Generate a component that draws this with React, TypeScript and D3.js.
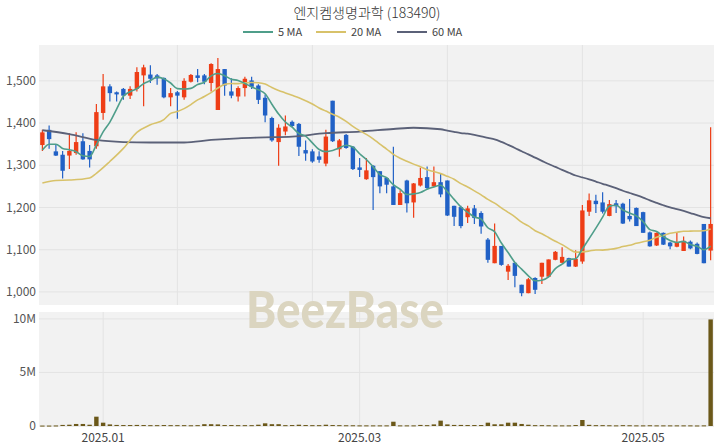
import React, { useEffect } from 'react';
import * as d3 from 'd3';

// OHLC, Dec 17 2024 .. May 20 2025 (100 trading days)
const opens = [
  1348, 1384, 1333, 1325, 1323, 1329, 1357, 1334, 1345, 1424,
  1487, 1473, 1481, 1465, 1481, 1513, 1515, 1513, 1507, 1461,
  1473, 1461, 1498, 1513, 1513, 1495, 1431, 1528, 1475, 1463,
  1483, 1501, 1489, 1460, 1412, 1355, 1380, 1403, 1398, 1336,
  1333, 1321, 1304, 1453, 1338, 1372, 1344, 1295, 1267, 1299,
  1286, 1270, 1250, 1206, 1264, 1212, 1252, 1272, 1250, 1260,
  1264, 1204, 1201, 1177, 1198, 1187, 1124, 1068, 1109, 1048,
  1069, 1017, 997, 1033, 1036, 1036, 1076, 1069, 1080, 1060,
  1072, 1190, 1216, 1212, 1180, 1210, 1209, 1180, 1199, 1189,
  1141, 1110, 1140, 1117, 1107, 1097, 1119, 1114, 1161, 1098,
];
const highs = [
  1384, 1394, 1348, 1334, 1376, 1378, 1376, 1348, 1445, 1516,
  1492, 1475, 1483, 1487, 1532, 1538, 1537, 1516, 1508, 1483,
  1476, 1506, 1516, 1528, 1516, 1542, 1554, 1528, 1506, 1487,
  1510, 1510, 1492, 1468, 1415, 1397, 1418, 1406, 1400, 1359,
  1338, 1333, 1384, 1453, 1362, 1374, 1346, 1317, 1317, 1300,
  1286, 1272, 1344, 1241, 1266, 1258, 1294, 1297, 1297, 1281,
  1264, 1204, 1204, 1204, 1206, 1191, 1128, 1162, 1109, 1066,
  1069, 1017, 1033, 1035, 1069, 1077, 1097, 1106, 1081, 1099,
  1206, 1233, 1230, 1236, 1218, 1218, 1211, 1220, 1200, 1190,
  1143, 1141, 1141, 1119, 1140, 1131, 1122, 1117, 1161, 1390,
];
const lows = [
  1334, 1339, 1322, 1269, 1291, 1325, 1313, 1295, 1339, 1408,
  1451, 1451, 1455, 1457, 1475, 1440, 1495, 1491, 1459, 1440,
  1410, 1455, 1496, 1497, 1492, 1475, 1431, 1465, 1459, 1451,
  1463, 1481, 1445, 1402, 1356, 1299, 1371, 1391, 1322, 1311,
  1306, 1306, 1298, 1355, 1320, 1339, 1289, 1272, 1266, 1194,
  1234, 1234, 1206, 1206, 1188, 1176, 1250, 1244, 1249, 1224,
  1180, 1156, 1151, 1163, 1161, 1138, 1069, 1068, 1062, 1028,
  1011, 990, 997, 995, 1019, 1035, 1075, 1068, 1060, 1059,
  1067, 1180, 1187, 1186, 1179, 1187, 1161, 1167, 1156, 1140,
  1107, 1109, 1111, 1101, 1106, 1097, 1101, 1089, 1068, 1075,
];
const closes = [
  1378, 1362, 1323, 1287, 1334, 1355, 1314, 1314, 1426, 1487,
  1471, 1468, 1465, 1481, 1521, 1532, 1505, 1506, 1461, 1471,
  1465, 1500, 1514, 1507, 1498, 1540, 1528, 1489, 1465, 1483,
  1505, 1486, 1455, 1418, 1359, 1389, 1392, 1393, 1344, 1328,
  1309, 1313, 1368, 1357, 1359, 1341, 1291, 1289, 1288, 1272,
  1250, 1254, 1206, 1234, 1210, 1257, 1270, 1246, 1260, 1231,
  1181, 1178, 1156, 1198, 1175, 1155, 1076, 1109, 1064, 1062,
  1038, 997, 1030, 1005, 1069, 1077, 1095, 1083, 1060, 1078,
  1193, 1217, 1208, 1190, 1208, 1203, 1162, 1172, 1156, 1140,
  1108, 1140, 1112, 1108, 1118, 1121, 1103, 1090, 1068, 1161,
];
const volumes = [
  40000, 40000, 50000, 100000, 120000, 190000, 190000, 120000, 870000, 310000,
  150000, 100000, 90000, 90000, 100000, 90000, 80000, 80000, 90000, 80000,
  80000, 80000, 70000, 80000, 170000, 170000, 150000, 90000, 90000, 80000,
  80000, 80000, 120000, 250000, 170000, 170000, 80000, 90000, 120000, 90000,
  80000, 80000, 120000, 90000, 80000, 70000, 70000, 60000, 60000, 60000,
  60000, 60000, 400000, 60000, 60000, 60000, 100000, 80000, 150000, 500000,
  150000, 100000, 100000, 90000, 90000, 90000, 310000, 160000, 160000, 310000,
  310000, 190000, 120000, 80000, 80000, 70000, 60000, 60000, 60000, 90000,
  560000, 110000, 80000, 80000, 70000, 60000, 80000, 70000, 60000, 60000,
  70000, 60000, 60000, 60000, 60000, 60000, 60000, 50000, 60000, 9950000,
];

// moving-average values read at the left edge, before enough candles exist
const ma5Lead: [number, number][] = [[0, 1336], [1, 1350], [2, 1350], [3, 1340]];
const ma20Lead: [number, number][] = [
  [0, 1258], [2, 1264], [4, 1265], [7, 1270], [8, 1281],
  [10, 1309], [12, 1340], [14, 1378], [16, 1396], [18, 1408],
];
const ma60Lead: [number, number][] = [
  [0, 1383], [4, 1374], [8, 1360], [12, 1355], [16, 1354], [21, 1354],
  [25, 1360], [29, 1364], [33, 1366], [37, 1368], [42, 1376], [47, 1380],
  [52, 1386], [55, 1389],
];

const priceTicks = [1000, 1100, 1200, 1300, 1400, 1500];
const volumeTicks = [0, 5000000, 10000000];
const volumeTickLabels = ['0', '5M', '10M'];
const monthTickIdx = [9, 47, 89];
const monthTickLabels = ['2025.01', '2025.03', '2025.05'];
const priceGridIdx = [20, 40, 60, 80];

const maSeries = [
  { name: '5 MA', n: 5, lead: ma5Lead, color: '#4f9e8a', width: 1.6 },
  { name: '20 MA', n: 20, lead: ma20Lead, color: '#d8c26a', width: 1.6 },
  { name: '60 MA', n: 60, lead: ma60Lead, color: '#5b6178', width: 1.8 },
];

const UP = '#ee3d16';
const DOWN = '#2161c6';
const VOL = '#6b5819';
const FONT = '"Noto Sans CJK KR", "Noto Sans", sans-serif';

function movingAverage(n: number, lead: [number, number][]) {
  const pts: [number, number][] = lead.slice();
  for (let i = n - 1; i < closes.length; i++) {
    pts.push([i, d3.mean(closes.slice(i - n + 1, i + 1)) as number]);
  }
  return pts;
}

export default function App() {
  useEffect(() => {
    document.body.style.margin = '0';
  }, []);

  const width = 720;
  const height = 448;
  const left = 39;
  const right = 714;
  const pTop = 45;
  const pBottom = 305;
  const vTop = 312;
  const vBottom = 427;

  const x = d3.scaleBand<number>().domain(d3.range(closes.length)).range([left, right]);
  const xc = (i: number) => (x(i) as number) + x.bandwidth() / 2;
  const y = d3.scaleLinear().domain([969, 1585]).range([pBottom, pTop]);
  const yv = d3.scaleLinear().domain([0, 10550000]).range([426, vTop + 1]);
  const bodyW = 4.4;

  const line = d3.line<[number, number]>()
    .x(d => xc(d[0]))
    .y(d => y(d[1]))
    .curve(d3.curveMonotoneX);

  return (
    <svg width={width} height={height} style={{ display: 'block', background: '#fff' }}>
      {/* title & legend */}
      <text x={367} y={18} textAnchor="middle" fontFamily={FONT} fontSize={14} fill="#333" fontWeight={300}>
        엔지켐생명과학 (183490)
      </text>
      {maSeries.map((s, k) => {
        const lx = [243, 316, 397][k];
        return (
          <g key={s.name}>
            <line x1={lx} x2={lx + 30} y1={32} y2={32} stroke={s.color} strokeWidth={2} />
            <text x={lx + 35} y={36} fontFamily={FONT} fontSize={11} fill="#444">{s.name}</text>
          </g>
        );
      })}

      {/* panels */}
      <rect x={left} y={pTop} width={right - left} height={pBottom - pTop} fill="#f2f2f2" />
      <rect x={left} y={vTop} width={right - left} height={vBottom - vTop} fill="#f2f2f2" />

      {priceTicks.map(t => (
        <g key={t}>
          <line x1={left} x2={right} y1={y(t)} y2={y(t)} stroke="#e3e3e3" />
          <text x={36} y={y(t) + 4} textAnchor="end" fontFamily={FONT} fontSize={12} fill="#555">
            {d3.format(',')(t)}
          </text>
        </g>
      ))}
      {priceGridIdx.map(i => (
        <line key={i} x1={xc(i)} x2={xc(i)} y1={pTop} y2={pBottom} stroke="#e3e3e3" />
      ))}

      {volumeTicks.map((t, k) => (
        <g key={t}>
          <line x1={left} x2={right} y1={yv(t)} y2={yv(t)} stroke="#e3e3e3" />
          <text x={36} y={yv(t) + 4} textAnchor="end" fontFamily={FONT} fontSize={12} fill="#555">
            {volumeTickLabels[k]}
          </text>
        </g>
      ))}
      {monthTickIdx.map((i, k) => (
        <g key={i}>
          <line x1={xc(i)} x2={xc(i)} y1={vTop} y2={vBottom} stroke="#e3e3e3" />
          <text x={xc(i)} y={442} textAnchor="middle" fontFamily={FONT} fontSize={12} fill="#444">
            {monthTickLabels[k]}
          </text>
        </g>
      ))}

      {/* volume */}
      {volumes.map((v, i) => (
        <rect key={i} x={xc(i) - bodyW / 2} y={yv(v)} width={bodyW} height={Math.max(1, yv(0) - yv(v))} fill={VOL} />
      ))}

      {/* candles */}
      {closes.map((c, i) => {
        const o = opens[i];
        const col = c >= o ? UP : DOWN;
        const top = y(Math.max(o, c));
        const bot = y(Math.min(o, c));
        return (
          <g key={i}>
            <line x1={xc(i)} x2={xc(i)} y1={y(highs[i])} y2={y(lows[i])} stroke={col} strokeWidth={1.2} />
            <rect x={xc(i) - bodyW / 2} y={top} width={bodyW} height={Math.max(1, bot - top)} fill={col} />
          </g>
        );
      })}

      {/* moving averages */}
      {maSeries.slice().reverse().map(s => (
        <path key={s.name} d={line(movingAverage(s.n, s.lead)) || ''} fill="none" stroke={s.color} strokeWidth={s.width} />
      ))}

      {/* watermark */}
      <text x={345} y={328} textAnchor="middle" fontFamily='Lato, "Open Sans", sans-serif' fontWeight={900} fontSize={52}
        textLength={198} lengthAdjust="spacingAndGlyphs" fill="#dbd5c0">
        BeezBase
      </text>
    </svg>
  );
}
